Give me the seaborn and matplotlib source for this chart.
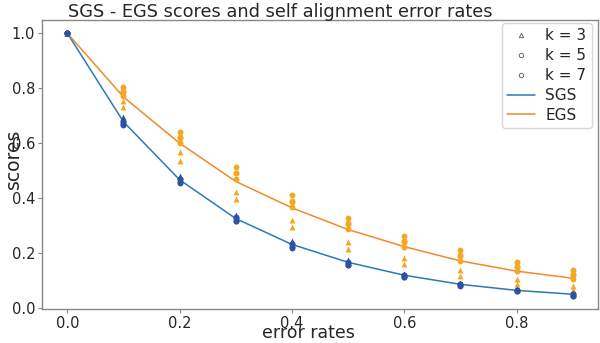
import numpy as np
import pandas as pd
import matplotlib
matplotlib.use("Agg")
import matplotlib.pyplot as plt
from matplotlib.lines import Line2D
import seaborn as sns

# error rates
error_rates = [0.0, 0.1, 0.2, 0.3, 0.4, 0.5, 0.6, 0.7, 0.8, 0.9]

# mean curves
sgs_line = [1.0, 0.678, 0.467, 0.326, 0.232, 0.167, 0.120, 0.087, 0.065, 0.051]
egs_line = [1.0, 0.768, 0.600, 0.461, 0.365, 0.286, 0.224, 0.172, 0.135, 0.109]

# individual runs (low / high of each stack) per k
sgs_k3_lo = [1.0, 0.680, 0.470, 0.328, 0.232, 0.166, 0.120, 0.087, 0.065, 0.050]
sgs_k3_hi = [1.0, 0.695, 0.482, 0.340, 0.243, 0.177, 0.126, 0.093, 0.070, 0.054]
sgs_k5_lo = [1.0, 0.668, 0.458, 0.318, 0.222, 0.158, 0.114, 0.083, 0.062, 0.046]
sgs_k5_hi = [1.0, 0.680, 0.470, 0.330, 0.234, 0.168, 0.121, 0.089, 0.067, 0.051]
sgs_k7_lo = [1.0, 0.665, 0.455, 0.316, 0.220, 0.156, 0.113, 0.082, 0.061, 0.045]
sgs_k7_hi = [1.0, 0.678, 0.468, 0.328, 0.232, 0.166, 0.120, 0.088, 0.066, 0.050]

egs_k3_lo = [1.0, 0.732, 0.535, 0.398, 0.295, 0.216, 0.162, 0.119, 0.089, 0.065]
egs_k3_hi = [1.0, 0.755, 0.568, 0.423, 0.320, 0.242, 0.183, 0.139, 0.107, 0.081]
egs_k5_lo = [1.0, 0.772, 0.602, 0.468, 0.368, 0.288, 0.222, 0.173, 0.137, 0.107]
egs_k5_hi = [1.0, 0.790, 0.622, 0.492, 0.390, 0.310, 0.243, 0.193, 0.153, 0.124]
egs_k7_lo = [1.0, 0.785, 0.620, 0.490, 0.388, 0.305, 0.240, 0.190, 0.150, 0.120]
egs_k7_hi = [1.0, 0.803, 0.640, 0.514, 0.411, 0.328, 0.262, 0.212, 0.169, 0.139]

rows = []
for method, k, arrs in [
    ("SGS", 3, (sgs_k3_lo, sgs_k3_hi)), ("SGS", 5, (sgs_k5_lo, sgs_k5_hi)), ("SGS", 7, (sgs_k7_lo, sgs_k7_hi)),
    ("EGS", 3, (egs_k3_lo, egs_k3_hi)), ("EGS", 5, (egs_k5_lo, egs_k5_hi)), ("EGS", 7, (egs_k7_lo, egs_k7_hi)),
]:
    for arr in arrs:
        for x, v in zip(error_rates, arr):
            rows.append({"method": method, "k": k, "error": x, "score": v})
pts = pd.DataFrame(rows)

lines = pd.DataFrame({
    "error": error_rates * 2,
    "score": sgs_line + egs_line,
    "method": ["SGS"] * len(error_rates) + ["EGS"] * len(error_rates),
})

sns.set_style("white")
plt.rcParams["font.family"] = ["DejaVu Sans"]

fig = plt.figure(figsize=(6.0, 3.43), dpi=100)
ax = fig.add_axes([42 / 600, 1 - 309 / 343, 556 / 600, 289 / 343])

marker_colors = {"SGS": "#2c52a6", "EGS": "#f5a623"}
marker_map = {3: "^", 5: "o", 7: "o"}
for (method, k), sub in pts.groupby(["method", "k"]):
    sns.scatterplot(data=sub, x="error", y="score", ax=ax, marker=marker_map[k],
                    color=marker_colors[method], s=18, linewidth=0, legend=False, zorder=3)

sns.lineplot(data=lines, x="error", y="score", hue="method",
             palette={"SGS": "#2a7ab8", "EGS": "#f08a2c"}, ax=ax, linewidth=1.1,
             legend=False, zorder=2)

ax.set_title("SGS - EGS scores and self alignment error rates", fontsize=12.8,
             pad=2.5, x=(280 - 42) / 556)
ax.set_xlabel("error rates", fontsize=12.5)
ax.set_ylabel("scores", fontsize=13.5)
ax.xaxis.label.set_verticalalignment("bottom")
ax.xaxis.set_label_coords((308 - 42) / 556, -(342 - 309) / 289)
ax.yaxis.set_label_coords((23 - 42) / 556, 0.52)
ax.set_xticks([0.0, 0.2, 0.4, 0.6, 0.8])
ax.set_yticks([0.0, 0.2, 0.4, 0.6, 0.8, 1.0])
ax.tick_params(axis="both", labelsize=10.5, length=3, color="#888888", left=True, bottom=True, pad=2)
for sp in ax.spines.values():
    sp.set_color("#888888")
    sp.set_linewidth(1.0)

handles = [
    Line2D([], [], linestyle="none", marker="^", markersize=3.2, mfc="white", mec="#555555", mew=0.6),
    Line2D([], [], linestyle="none", marker="o", markersize=3.2, mfc="white", mec="#555555", mew=0.6),
    Line2D([], [], linestyle="none", marker="o", markersize=3.2, mfc="white", mec="#555555", mew=0.6),
    Line2D([], [], color="#2a7ab8", linewidth=1.1),
    Line2D([], [], color="#f08a2c", linewidth=1.1),
]
labels = ["k = 3", "k = 5", "k = 7", "SGS", "EGS"]
ax.legend(handles, labels, loc="upper right", fontsize=11, frameon=True,
          handlelength=1.8, labelspacing=0.32, borderpad=0.35, handletextpad=0.7,
          borderaxespad=0, bbox_to_anchor=(0.989, 0.99))

fig.savefig("out.png", dpi=100)
